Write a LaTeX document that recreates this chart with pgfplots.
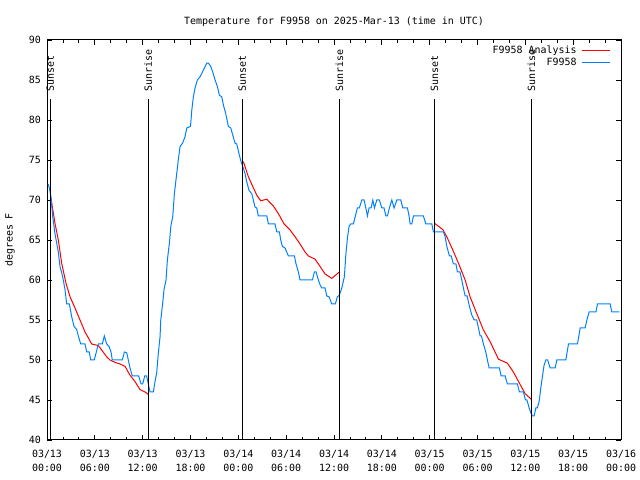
\documentclass[border=0pt]{standalone}
\usepackage{pgfplots}
\pgfplotsset{compat=1.18}
\usepackage{fontspec}
\setmainfont{DejaVu Sans Mono}
\definecolor{gblue}{RGB}{0,128,255}
\begin{document}
\fontsize{10}{14}\selectfont
\begin{tikzpicture}[x=1bp,y=1bp]
\useasboundingbox (0,0) rectangle (640,480);
\begin{axis}[
  at={(47bp,40bp)}, anchor=south west,
  scale only axis, width=574bp, height=400bp,
  xmin=0, xmax=72, ymin=40, ymax=90,
  xtick={0,6,...,72},
  xticklabels={{03/13\\00:00},{03/13\\06:00},{03/13\\12:00},{03/13\\18:00},{03/14\\00:00},{03/14\\06:00},{03/14\\12:00},{03/14\\18:00},{03/15\\00:00},{03/15\\06:00},{03/15\\12:00},{03/15\\18:00},{03/16\\00:00}},
  minor xtick={2,4,8,10,14,16,20,22,26,28,32,34,38,40,44,46,50,52,56,58,62,64,68,70},
  ytick={40,45,...,90},
  tick align=inside,
  major tick length=5bp, minor tick length=3bp,
  tick style={black, line width=0.8bp},
  axis line style={black, line width=1bp},
  xticklabel style={align=center, inner sep=0pt, yshift=-10bp, font=\fontsize{10}{14}\selectfont},
  yticklabel style={inner sep=0pt, xshift=-6bp},
  /pgf/number format/assume math mode=true,
  ylabel={degrees F},
  ylabel style={at={(axis description cs:-0.0645,0.5)}, anchor=center},
  title={Temperature for F9958 on 2025-Mar-13 (time in UTC)},
  title style={at={(axis description cs:0.5,1)}, anchor=center, yshift=12bp},
  unbounded coords=jump,
  legend plot pos=right,
  legend cell align=right,
  legend image code/.code={\draw[#1, line width=1.2bp] (0bp,0bp) -- (28bp,0bp);},
  legend style={draw=none, fill=none, at={(1,1)}, anchor=north east, xshift=-10bp, yshift=-4bp,
    row sep=0bp, column sep=4bp, inner sep=0pt,
    nodes={inner sep=1bp, text height=8bp, text depth=2bp}},
  clip=false,
]
\addplot[red, line width=1bp] coordinates {
(0.5,70.2)(1.0,67.1)(1.42,65)(1.84,62.1)(2.38,59.6)(2.89,57.9)(3.51,56.5)(4.14,55)(4.77,53.5)(5.61,52)(6.44,51.8)(6.86,51.25)(7.49,50.4)(7.9,50)(8.53,49.7)(9.16,49.5)(9.79,49.2)(10.41,48.1)(11.04,47.3)(11.67,46.3)(12.3,46)(12.71,45.7)
(12.8,nan)
(24.63,74.8)(25.26,72.9)(25.81,71.7)(26.31,70.6)(26.81,69.9)(27.57,70.1)(27.85,69.8)(28.39,69.25)(29.02,68.3)(29.74,67)(30.49,66.25)(31.12,65.4)(31.74,64.5)(32.37,63.5)(32.79,63)(33.63,62.6)(34.25,61.7)(34.88,60.75)(35.72,60.2)(36.67,61)
(37,nan)
(48.6,67.1)(49.65,66.3)(50.15,65.4)(50.9,63.75)(51.61,62.1)(52.45,60)(53.07,57.9)(53.83,56)(54.74,53.75)(55.58,52.3)(56.63,50.1)(57.75,49.6)(58.5,48.5)(59.26,47.1)(59.97,45.8)(60.73,45.1)
};
\addlegendentry{F9958 Analysis}
\addplot[gblue, line width=1bp] coordinates {
(0.13,72)(0.3,71.5)(0.5,70.4)(0.72,67.9)(1.0,65.8)(1.42,63.5)(1.63,61.7)(1.97,60.4)(2.26,58.8)(2.47,57)(2.8,57)(3.1,55.4)(3.39,54.2)(3.73,53.8)(3.93,53)(4.23,52)(4.77,52)(4.98,51)(5.3,51)(5.48,50)(5.93,50)(6.24,51.2)(6.44,52)(6.94,52)(7.19,53)(7.49,52)(7.78,51.7)(8.03,51)(8.19,50)(9.45,50)(9.7,51)(10.0,50.9)(10.2,50)(10.41,49)(10.7,48)(11.5,48)(11.8,47)(12.0,47)(12.26,48)(12.5,48)(12.71,47)(12.92,46)(13.34,46)(13.55,47.3)(13.76,48.4)(13.96,50.8)(14.18,52.9)(14.27,55)(14.51,57.1)(14.68,58.8)(14.93,60)(15.1,62.5)(15.35,64.6)(15.53,66.7)(15.77,67.9)(15.98,70.8)(16.27,73.3)(16.47,75)(16.69,76.7)(17.0,77.1)(17.31,77.9)(17.53,79)(18.0,79.2)(18.16,81.2)(18.36,82.9)(18.57,84)(18.86,85)(19.2,85.4)(19.5,86)(19.74,86.5)(20.04,87.1)(20.25,87.1)(20.54,86.7)(20.79,86)(21.08,85)(21.37,84.2)(21.62,83.1)(21.92,82.9)(22.12,81.9)(22.42,80.8)(22.75,79.2)(23.05,79)(23.3,78.1)(23.59,77.1)(23.8,77)(24.13,75.6)(24.34,74.8)(24.55,74.2)(24.84,73.3)(25.05,72.3)(25.34,71.2)(25.68,70.8)(25.88,70)
(26.1,69.1)(26.31,69)(26.51,68)(27.57,68)(27.77,67)(28.6,67)(28.82,66)(29.15,66)(29.32,65)(29.52,64.2)(29.86,64)(30.28,63)(31.03,63)(31.24,62)(31.53,61)(31.74,60)(33.29,60)(33.54,61)(33.75,61)(34.04,60)(34.25,59.4)(34.47,59)(34.88,59)(35.09,58)(35.38,57.9)(35.72,57)(36.17,57)(36.42,57.9)(36.67,58.1)(36.98,59)(37.3,60.4)(37.48,63.1)(37.68,65.2)(37.89,66.7)(38.1,67)(38.43,67)(38.68,68)(38.93,69)(39.18,69)(39.49,70)(39.77,70)(39.99,69)(40.19,68)(40.4,69)(40.65,69)(40.87,70)(41.07,69)(41.37,70)(41.69,70)(42.0,69)(42.28,69)(42.5,68)(42.7,68)(42.95,69)(43.25,70)(43.54,69)(43.88,70)(44.38,70)(44.63,69)(45.21,69)(45.42,68)(45.55,67)(45.76,67)(45.96,68)(47.21,68)(47.52,67)(48.27,67)(48.47,66)(49.73,66)
(49.94,65.4)(50.15,64.2)(50.48,63)(50.7,63)(50.98,62)(51.3,62)(51.48,61)(51.8,61)(52.03,60)(52.23,59)(52.45,58)(52.7,58)(52.99,56.7)(53.29,55.6)(53.58,55)(53.9,55)(54.12,54)(54.33,53)(54.5,53)(54.74,52)(55.04,51)(55.24,50)(55.46,49)(56.75,49)(56.96,48)(57.47,48)(57.75,47)(59.0,47)(59.26,46)(59.76,46)(60.01,45)(60.2,45)(60.48,44)(60.73,43.3)(60.89,43)(61.1,43)(61.32,44)(61.5,44)(61.73,44.8)(61.94,46.5)(62.15,48)(62.36,49.4)(62.57,50)(62.8,50)(63.11,49)(63.74,49)(63.95,50)(65.08,50)(65.41,52)(66.54,52)(66.88,54)(67.5,54)(67.72,55)(68.0,56)(68.85,56)(69.05,57)(70.64,57)(70.85,56)(71.8,56)
};
\addlegendentry{F9958}
% sunrise / sunset markers
\addplot[black, line width=1bp, forget plot] coordinates {(0.41,40)(0.41,82.6)};
\addplot[black, line width=1bp, forget plot] coordinates {(12.69,40)(12.69,82.6)};
\addplot[black, line width=1bp, forget plot] coordinates {(24.5,40)(24.5,82.6)};
\addplot[black, line width=1bp, forget plot] coordinates {(36.67,40)(36.67,82.6)};
\addplot[black, line width=1bp, forget plot] coordinates {(48.6,40)(48.6,82.6)};
\addplot[black, line width=1bp, forget plot] coordinates {(60.76,40)(60.76,82.6)};
\node[rotate=90, anchor=west, inner sep=0pt] at (axis cs:0.41,83.5) {Sunset};
\node[rotate=90, anchor=west, inner sep=0pt] at (axis cs:12.69,83.5) {Sunrise};
\node[rotate=90, anchor=west, inner sep=0pt] at (axis cs:24.5,83.5) {Sunset};
\node[rotate=90, anchor=west, inner sep=0pt] at (axis cs:36.67,83.5) {Sunrise};
\node[rotate=90, anchor=west, inner sep=0pt] at (axis cs:48.6,83.5) {Sunset};
\node[rotate=90, anchor=west, inner sep=0pt] at (axis cs:60.76,83.5) {Sunrise};
\end{axis}
\end{tikzpicture}
\end{document}
